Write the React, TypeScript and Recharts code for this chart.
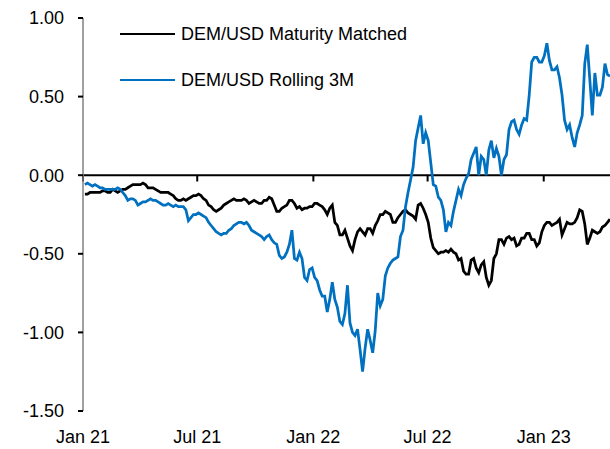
import { LineChart, Line, XAxis, YAxis, ReferenceLine } from "recharts"

const dates = [
  "2021-01-04", "2021-01-08", "2021-01-12", "2021-01-16", "2021-01-20", "2021-01-24", "2021-01-28", "2021-02-01",
  "2021-02-05", "2021-02-09", "2021-02-13", "2021-02-17", "2021-02-21", "2021-02-25", "2021-03-01", "2021-03-05",
  "2021-03-09", "2021-03-13", "2021-03-17", "2021-03-21", "2021-03-25", "2021-03-29", "2021-04-02", "2021-04-06",
  "2021-04-10", "2021-04-14", "2021-04-18", "2021-04-22", "2021-04-26", "2021-04-30", "2021-05-04", "2021-05-08",
  "2021-05-12", "2021-05-16", "2021-05-20", "2021-05-24", "2021-05-28", "2021-06-01", "2021-06-05", "2021-06-09",
  "2021-06-13", "2021-06-17", "2021-06-21", "2021-06-25", "2021-06-29", "2021-07-03", "2021-07-07", "2021-07-11",
  "2021-07-15", "2021-07-19", "2021-07-23", "2021-07-27", "2021-07-31", "2021-08-04", "2021-08-08", "2021-08-12",
  "2021-08-16", "2021-08-20", "2021-08-24", "2021-08-28", "2021-09-01", "2021-09-05", "2021-09-09", "2021-09-13",
  "2021-09-17", "2021-09-21", "2021-09-25", "2021-09-29", "2021-10-03", "2021-10-07", "2021-10-11", "2021-10-15",
  "2021-10-19", "2021-10-23", "2021-10-27", "2021-10-31", "2021-11-04", "2021-11-08", "2021-11-12", "2021-11-16",
  "2021-11-20", "2021-11-24", "2021-11-28", "2021-12-02", "2021-12-06", "2021-12-10", "2021-12-14", "2021-12-18",
  "2021-12-22", "2021-12-26", "2021-12-30", "2022-01-03", "2022-01-07", "2022-01-11", "2022-01-15", "2022-01-19",
  "2022-01-23", "2022-01-27", "2022-01-31", "2022-02-04", "2022-02-08", "2022-02-12", "2022-02-16", "2022-02-20",
  "2022-02-24", "2022-02-28", "2022-03-04", "2022-03-08", "2022-03-12", "2022-03-16", "2022-03-20", "2022-03-24",
  "2022-03-28", "2022-04-01", "2022-04-05", "2022-04-09", "2022-04-13", "2022-04-17", "2022-04-21", "2022-04-25",
  "2022-04-29", "2022-05-03", "2022-05-07", "2022-05-11", "2022-05-15", "2022-05-19", "2022-05-23", "2022-05-27",
  "2022-05-31", "2022-06-04", "2022-06-08", "2022-06-12", "2022-06-16", "2022-06-20", "2022-06-24", "2022-06-28",
  "2022-07-02", "2022-07-06", "2022-07-10", "2022-07-14", "2022-07-18", "2022-07-22", "2022-07-26", "2022-07-30",
  "2022-08-03", "2022-08-07", "2022-08-11", "2022-08-15", "2022-08-19", "2022-08-23", "2022-08-27", "2022-08-31",
  "2022-09-04", "2022-09-08", "2022-09-12", "2022-09-16", "2022-09-20", "2022-09-24", "2022-09-28", "2022-10-02",
  "2022-10-06", "2022-10-10", "2022-10-14", "2022-10-18", "2022-10-22", "2022-10-26", "2022-10-30", "2022-11-03",
  "2022-11-07", "2022-11-11", "2022-11-15", "2022-11-19", "2022-11-23", "2022-11-27", "2022-12-01", "2022-12-05",
  "2022-12-09", "2022-12-13", "2022-12-17", "2022-12-21", "2022-12-25", "2022-12-29", "2023-01-02", "2023-01-06",
  "2023-01-10", "2023-01-14", "2023-01-18", "2023-01-22", "2023-01-26", "2023-01-30", "2023-02-03", "2023-02-07",
  "2023-02-11", "2023-02-15", "2023-02-19", "2023-02-23", "2023-02-27", "2023-03-03", "2023-03-07", "2023-03-11",
  "2023-03-15", "2023-03-19", "2023-03-23", "2023-03-27", "2023-03-31", "2023-04-04", "2023-04-08", "2023-04-12",
  "2023-04-16",
]

// DEM/USD Maturity Matched
const matched = [
  -0.12, -0.12, -0.11, -0.11, -0.11, -0.11, -0.11, -0.10, -0.10, -0.11, -0.11, -0.09, -0.10, -0.11, -0.10, -0.09,
  -0.09, -0.08, -0.07, -0.06, -0.06, -0.06, -0.06, -0.05, -0.06, -0.08, -0.08, -0.08, -0.09, -0.10, -0.11, -0.11,
  -0.11, -0.11, -0.12, -0.13, -0.15, -0.16, -0.16, -0.15, -0.16, -0.15, -0.14, -0.13, -0.13, -0.12, -0.13, -0.15,
  -0.16, -0.19, -0.20, -0.22, -0.23, -0.22, -0.21, -0.19, -0.18, -0.17, -0.16, -0.15, -0.16, -0.16, -0.16, -0.15,
  -0.16, -0.18, -0.17, -0.16, -0.17, -0.18, -0.18, -0.16, -0.16, -0.14, -0.15, -0.19, -0.23, -0.23, -0.21, -0.20,
  -0.19, -0.16, -0.16, -0.18, -0.21, -0.20, -0.22, -0.21, -0.21, -0.20, -0.20, -0.18, -0.18, -0.19, -0.20, -0.22,
  -0.25, -0.21, -0.19, -0.30, -0.32, -0.38, -0.38, -0.35, -0.40, -0.45, -0.48, -0.41, -0.36, -0.34, -0.36, -0.38,
  -0.34, -0.34, -0.37, -0.32, -0.29, -0.25, -0.25, -0.23, -0.24, -0.25, -0.30, -0.30, -0.27, -0.25, -0.23, -0.22,
  -0.24, -0.25, -0.26, -0.28, -0.19, -0.18, -0.21, -0.25, -0.30, -0.40, -0.46, -0.48, -0.50, -0.49, -0.49, -0.48,
  -0.49, -0.47, -0.49, -0.50, -0.54, -0.53, -0.61, -0.63, -0.63, -0.54, -0.53, -0.59, -0.62, -0.57, -0.55, -0.65,
  -0.70, -0.67, -0.53, -0.50, -0.41, -0.41, -0.44, -0.40, -0.39, -0.41, -0.40, -0.45, -0.44, -0.40, -0.40, -0.37,
  -0.37, -0.41, -0.41, -0.45, -0.43, -0.36, -0.32, -0.30, -0.30, -0.32, -0.31, -0.30, -0.28, -0.38, -0.34, -0.30,
  -0.31, -0.31, -0.30, -0.27, -0.22, -0.23, -0.31, -0.44, -0.40, -0.35, -0.36, -0.37, -0.36, -0.33, -0.32, -0.30,
  -0.28,
]

// DEM/USD Rolling 3M
const rolling = [
  -0.06, -0.05, -0.06, -0.07, -0.06, -0.07, -0.08, -0.08, -0.09, -0.09, -0.09, -0.09, -0.09, -0.08, -0.09, -0.11,
  -0.13, -0.16, -0.15, -0.15, -0.16, -0.19, -0.18, -0.17, -0.17, -0.16, -0.15, -0.16, -0.16, -0.17, -0.18, -0.19,
  -0.19, -0.18, -0.19, -0.20, -0.19, -0.20, -0.20, -0.20, -0.22, -0.29, -0.27, -0.25, -0.25, -0.24, -0.25, -0.26,
  -0.27, -0.30, -0.32, -0.34, -0.36, -0.37, -0.38, -0.37, -0.37, -0.35, -0.34, -0.32, -0.31, -0.30, -0.30, -0.31,
  -0.30, -0.32, -0.35, -0.36, -0.37, -0.38, -0.39, -0.41, -0.39, -0.38, -0.41, -0.43, -0.44, -0.51, -0.53, -0.52,
  -0.49, -0.44, -0.35, -0.53, -0.54, -0.49, -0.53, -0.65, -0.67, -0.60, -0.59, -0.65, -0.67, -0.73, -0.77, -0.77,
  -0.87, -0.79, -0.68, -0.79, -0.84, -0.93, -0.95, -0.88, -0.70, -0.94, -1.00, -1.02, -0.98, -1.11, -1.25, -1.10,
  -0.98, -1.05, -1.13, -0.99, -0.75, -0.83, -0.79, -0.64, -0.59, -0.56, -0.54, -0.53, -0.52, -0.39, -0.35, -0.20,
  -0.11, -0.03, 0.05, 0.22, 0.30, 0.38, 0.20, 0.27, 0.22, 0.08, -0.06, -0.07, -0.14, -0.16, -0.22, -0.36,
  -0.30, -0.32, -0.23, -0.16, -0.09, -0.13, -0.06, -0.02, 0.01, 0.10, 0.14, 0.18, 0.00, 0.12, 0.10, 0.00,
  0.16, 0.22, 0.11, 0.17, 0.12, 0.00, 0.10, 0.13, 0.29, 0.34, 0.35, 0.29, 0.26, 0.32, 0.36, 0.35,
  0.51, 0.72, 0.75, 0.75, 0.72, 0.72, 0.76, 0.84, 0.73, 0.67, 0.67, 0.69, 0.62, 0.51, 0.35, 0.29,
  0.32, 0.24, 0.18, 0.27, 0.32, 0.38, 0.71, 0.83, 0.61, 0.38, 0.65, 0.51, 0.51, 0.56, 0.71, 0.64,
  0.63,
]

const tickDates = ["2021-01-01", "2021-07-01", "2022-01-01", "2022-07-01", "2023-01-01"]
const tickLabels = ["Jan 21", "Jul 21", "Jan 22", "Jul 22", "Jan 23"]
const yTicks = [-1.5, -1.0, -0.5, 0, 0.5, 1.0]

const seriesInfo = [
  { key: "matched", name: "DEM/USD Maturity Matched", color: "#000000" },
  { key: "rolling", name: "DEM/USD Rolling 3M", color: "#0070C0" },
]

const start = Date.parse("2021-01-01")
const toDay = (d: string) => (Date.parse(d) - start) / 86400000

const data = dates.map((d, i) => ({ t: toDay(d), matched: matched[i], rolling: rolling[i] }))
const xTicks = tickDates.map(toDay)

const font = "'Liberation Sans', Arial, sans-serif"

function LegendBox() {
  return (
    <div
      style={{ position: "absolute", top: 11, left: 120, fontFamily: font, fontSize: 18, color: "#000" }}
    >
      {seriesInfo.map((s) => (
        <div key={s.key} style={{ display: "flex", alignItems: "center", height: 46 }}>
          <span style={{ display: "inline-block", width: 55, height: 2.5, background: s.color, marginRight: 6 }} />
          <span>{s.name}</span>
        </div>
      ))}
    </div>
  )
}

export default function App() {
  return (
    <div style={{ position: "absolute", left: 0, top: 0, width: 610, height: 449, background: "#fff" }}>
      <LineChart width={610} height={449} data={data} margin={{ top: 18, right: 0, bottom: 0, left: 0 }}>
        <XAxis
          dataKey="t"
          type="number"
          domain={[0, 835]}
          ticks={xTicks}
          tickFormatter={(v: number) => tickLabels[xTicks.indexOf(v)] ?? ""}
          axisLine={false}
          tickLine={false}
          tickSize={6}
          tickMargin={13}
          height={38}
          allowDataOverflow
          tick={{ fontSize: 18, fill: "#000", fontFamily: font }}
        />
        <YAxis
          type="number"
          domain={[-1.5, 1]}
          ticks={yTicks}
          tickFormatter={(v: number) => v.toFixed(2)}
          width={83}
          axisLine={{ stroke: "#808080", strokeWidth: 1.5 }}
          tickLine={{ stroke: "#000", strokeWidth: 2 }}
          tickSize={5}
          tickMargin={14}
          tick={{ fontSize: 18, fill: "#000", fontFamily: font }}
        />
        <ReferenceLine y={0} stroke="#000" strokeWidth={2} />
        {xTicks.map((t) => (
          <ReferenceLine
            key={t}
            segment={[
              { x: t, y: 0 },
              { x: t, y: -0.04 },
            ]}
            stroke="#000"
            strokeWidth={2}
          />
        ))}
        {seriesInfo.map((s) => (
          <Line
            key={s.key}
            type="linear"
            dataKey={s.key}
            name={s.name}
            stroke={s.color}
            strokeWidth={2.75}
            dot={false}
            isAnimationActive={false}
          />
        ))}
      </LineChart>
      <LegendBox />
    </div>
  )
}
